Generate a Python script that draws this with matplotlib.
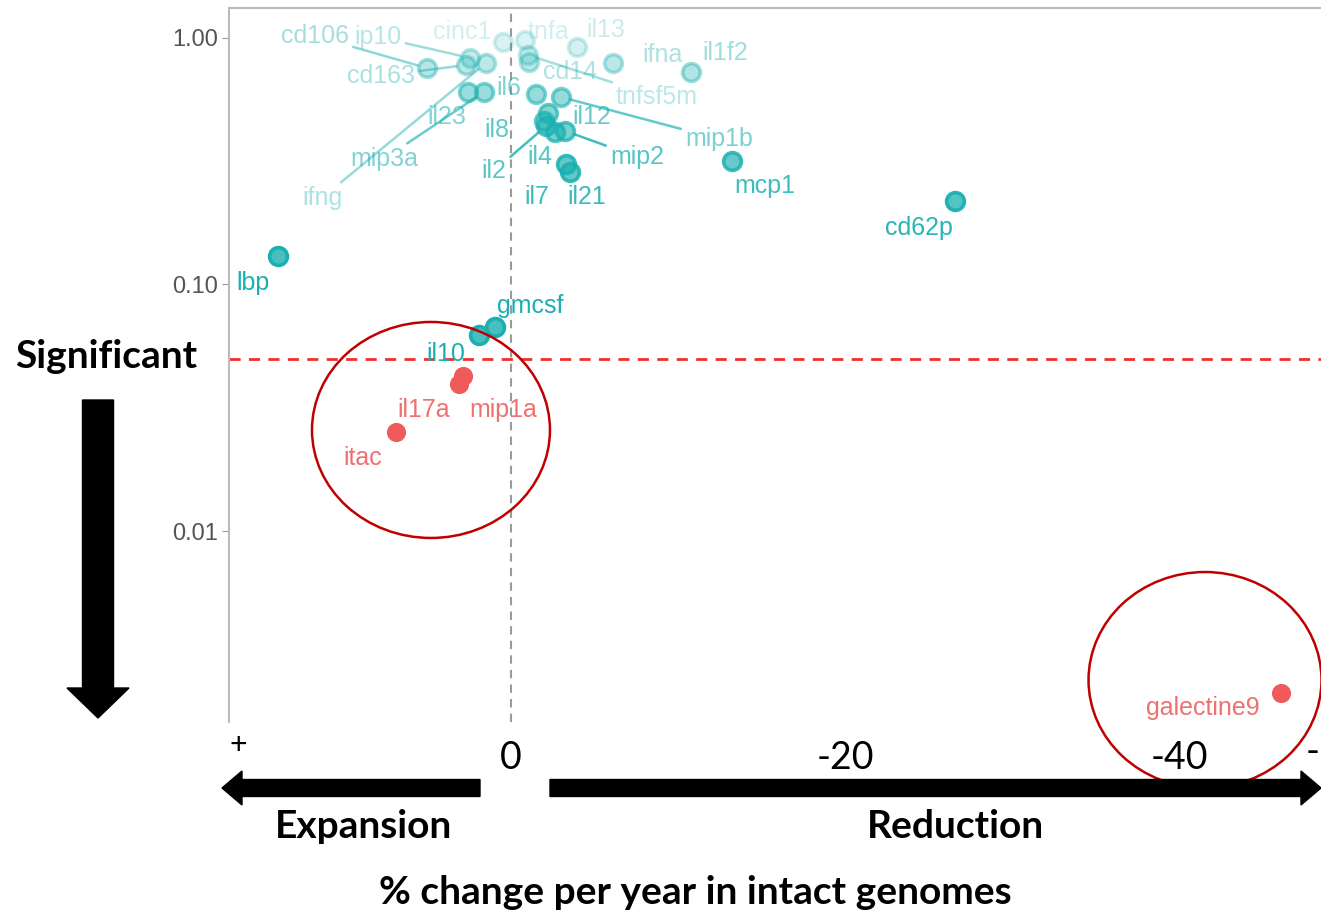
import numpy as np
import matplotlib
matplotlib.use("Agg")
import matplotlib.pyplot as plt
from matplotlib.patches import Ellipse, FancyArrow
from matplotlib.transforms import IdentityTransform
from matplotlib.colors import to_rgba

# cytokine markers: % change per year vs p-value
names = ["cd106", "ip10", "cinc1", "tnfa", "il13", "cd163", "ifng", "il23",
         "mip3a", "il6", "il8", "il2", "il4", "mip2", "il12", "mip1b", "cd14",
         "tnfsf5m", "ifna", "il1f2", "mcp1", "il7", "il21", "cd62p", "lbp",
         "gmcsf", "il10", "mip1a", "il17a", "itac", "galectine9"]
pct_change = [5.03, 2.46, 0.48, -0.84, -3.95, 2.69, 1.50, 2.57,
              1.62, -1.50, -1.98, -2.10, -2.63, -3.23, -2.22, -2.99, -1.08,
              -1.02, -6.11, -10.78, -13.23, -3.29, -3.53, -26.59, 13.95,
              0.96, 1.92, 2.87, 3.11, 6.89, -46.11]
p_value = [0.755, 0.830, 0.963, 0.981, 0.919, 0.777, 0.792, 0.604,
           0.604, 0.593, 0.461, 0.440, 0.416, 0.420, 0.496, 0.576, 0.799,
           0.853, 0.792, 0.728, 0.317, 0.308, 0.286, 0.218, 0.1305,
           0.0672, 0.0624, 0.0425, 0.0395, 0.0252, 0.0022]

# label placement (pixel offsets from the point), ggrepel style
label_offsets = {
    "cd106": (-112, 32), "ip10": (-92, 21), "cinc1": (-41, 10), "tnfa": (23, 8),
    "il13": (29, 17), "cd163": (-85, -11), "ifng": (-164, -135), "il23": (-21, -25),
    "mip3a": (-100, -67), "il6": (-27, 6), "il8": (-47, -9), "il2": (-52, -45),
    "il4": (-15, -25), "mip2": (72, -26), "il12": (44, -4), "mip1b": (158, -42),
    "cd14": (41, -10), "tnfsf5m": (129, -42), "ifna": (49, 8), "il1f2": (34, 19),
    "mcp1": (33, -25), "il7": (-29, -33), "il21": (17, -25), "cd62p": (-36, -27),
    "lbp": (-25, -27), "gmcsf": (35, 21), "il10": (-33, -19), "mip1a": (40, -34),
    "il17a": (-35, -26), "itac": (-33, -26), "galectine9": (-78, -15),
}
with_segment = {"cd106", "ip10", "cd163", "ifng", "mip3a", "il2", "mip2",
                "mip1b", "tnfsf5m"}

TEAL = "#1AAFB0"
RED = "#F05A5A"
cutoff = 0.05

fig = plt.figure(figsize=(13.21, 9.15), dpi=100)
ax = fig.add_axes([229 / 1321, (915 - 722) / 915, (1340 - 229) / 1321, 714 / 915])

ax.set_yscale("log")
ax.set_xlim(16.89, -49.64)
ax.set_ylim(0.00168, 1.323)

for name, x, p in zip(names, pct_change, p_value):
    sig = p < cutoff
    col = RED if sig else TEAL
    a = 1.0 if sig else float(np.clip(1.15 - p, 0.2, 1.0))
    if sig:
        ax.scatter([x], [p], s=190, color=col, linewidths=0, zorder=3)
    else:
        # ringed point: slightly lighter fill under the outline
        ax.scatter([x], [p], s=165, facecolors=[to_rgba(col, a * 0.8)],
                   edgecolors=[to_rgba(col, a)], linewidths=2.6, zorder=3)
    arrow = None
    if name in with_segment:
        arrow = dict(arrowstyle="-", color=col, lw=1.8, alpha=min(1, a + 0.1),
                     shrinkA=1, shrinkB=7)
    ax.annotate(name, (x, p), xytext=label_offsets[name],
                textcoords="offset pixels", ha="center", va="center",
                fontsize=18, family="Liberation Sans",
                color="#F07070" if sig else col,
                alpha=1.0 if sig else a, arrowprops=arrow, zorder=4)

ax.axhline(cutoff, color="#F03030", lw=2, ls=(0, (4, 3)), zorder=2)
ax.axvline(0, color="#9A9A9A", lw=1.5, ls=(0, (4, 3)), zorder=1)

ax.set_yticks([1, 0.1, 0.01])
ax.set_yticklabels(["1.00", "0.10", "0.01"])
ax.yaxis.set_minor_locator(matplotlib.ticker.NullLocator())
ax.tick_params(axis="y", length=5, color="#999999", labelcolor="#555555",
               labelsize=17, pad=3)
for lab in ax.get_yticklabels():
    lab.set_family("Liberation Sans")

ax.set_xticks([0, -20, -40])
ax.set_xticklabels(["0", "-20", "-40"])
ax.tick_params(axis="x", length=0, labelsize=27, pad=13, labelcolor="black")
for lab in ax.get_xticklabels():
    lab.set_family("Lato")

for side in ["right", "bottom"]:
    ax.spines[side].set_visible(False)
for side in ["top", "left"]:
    ax.spines[side].set_color("#BBBBBB")
    ax.spines[side].set_linewidth(1.5)

# circled regions
ax.add_patch(Ellipse((0.1818, 0.409), 0.2142, 0.3025, transform=ax.transAxes,
                     fill=False, ec="#C00000", lw=1.8, clip_on=False, zorder=5))
ax.add_patch(Ellipse((0.8785, 0.0588), 0.2097, 0.3025, transform=ax.transAxes,
                     fill=False, ec="#C00000", lw=1.8, clip_on=False, zorder=5))

# direction arrows drawn in pixel space
px = IdentityTransform()
fig.add_artist(FancyArrow(98, 515, 0, -318, width=31, head_width=62,
                          head_length=30, length_includes_head=True,
                          color="black", transform=px))
fig.add_artist(FancyArrow(480, 127, -258, 0, width=17, head_width=34,
                          head_length=20, length_includes_head=True,
                          color="black", transform=px))
fig.add_artist(FancyArrow(550, 127, 771, 0, width=17, head_width=34,
                          head_length=20, length_includes_head=True,
                          color="black", transform=px))

bold = dict(family="Lato", fontweight="bold", color="black",
            ha="center", va="center")
fig.text(106 / 1321, 1 - 356 / 915, "Significant", fontsize=28, **bold)
fig.text(364 / 1321, 1 - 826 / 915, "Expansion", fontsize=28, **bold)
fig.text(955 / 1321, 1 - 826 / 915, "Reduction", fontsize=28, **bold)
fig.text(695 / 1321, 1 - 892 / 915, "% change per year in intact genomes",
         fontsize=28, **bold)
fig.text(238 / 1321, 1 - 745 / 915, "+", fontsize=22, family="Lato",
         ha="center", va="center")
fig.text(1306 / 1321, 1 - 752 / 915, "-", fontsize=27, family="Lato",
         ha="left", va="center")

fig.savefig("out.png", dpi=100, facecolor="white")
